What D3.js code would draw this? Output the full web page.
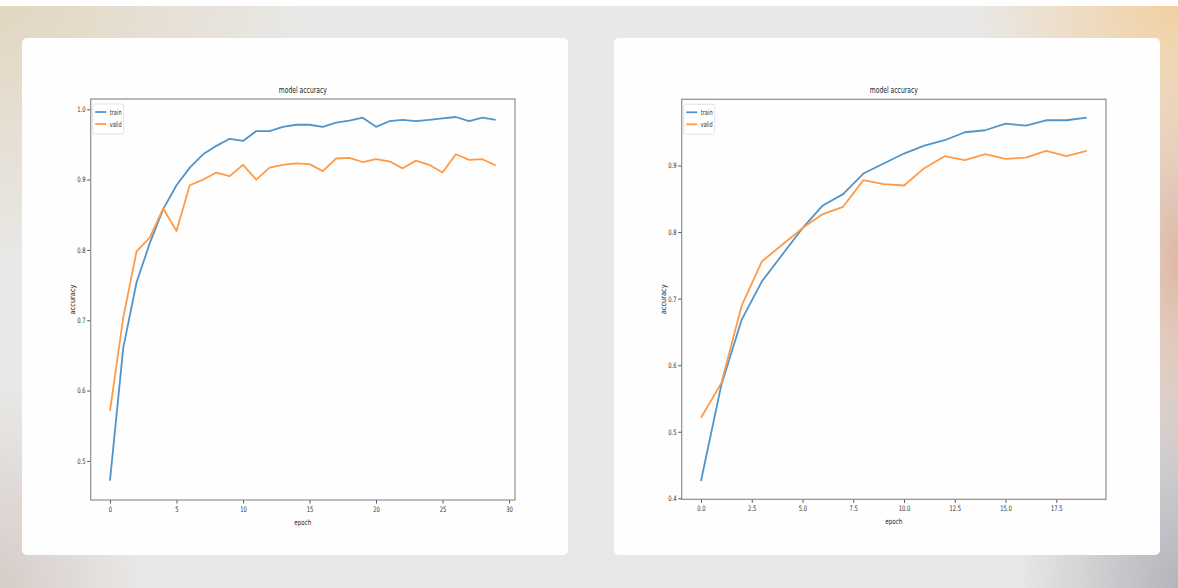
<!DOCTYPE html>
<html>
<head>
<meta charset="utf-8">
<script src="https://cdn.jsdelivr.net/npm/d3@7"></script>
<style>
  html, body { margin: 0; padding: 0; }
  body {
    width: 1178px; height: 588px; overflow: hidden;
    background:
      linear-gradient(#ffffff, #ffffff) top / 100% 6px no-repeat,
      radial-gradient(ellipse 300px 260px at 0px 0px, rgba(226,214,192,1), rgba(226,214,192,0)),
      radial-gradient(ellipse 200px 200px at 1178px 0px, rgba(242,208,160,1), rgba(242,208,160,0)),
      radial-gradient(ellipse 90px 220px at 1178px 260px, rgba(222,184,164,1), rgba(222,184,164,0)),
      radial-gradient(ellipse 160px 260px at 1178px 588px, rgba(180,180,188,1), rgba(180,180,188,0)),
      radial-gradient(ellipse 140px 200px at 0px 588px, rgba(214,204,200,1), rgba(214,204,200,0)),
      #e9e8e6;
  }
  svg { position: absolute; left: 0; top: 0; }
  .tick text { font-family: "DejaVu Sans Condensed", "DejaVu Sans", sans-serif; font-size: 7.5px; fill: #333; }
  .tick line { stroke: #555; }
  .domain { display: none; }
</style>
</head>
<body>
<script>
// left chart: 30 epochs
var epochsA = d3.range(30);
var trainA = [0.472, 0.661, 0.754, 0.810, 0.858, 0.892, 0.917, 0.936, 0.948, 0.958,
              0.955, 0.969, 0.969, 0.975, 0.978, 0.978, 0.975, 0.981, 0.984, 0.988,
              0.975, 0.983, 0.985, 0.983, 0.985, 0.987, 0.989, 0.983, 0.988, 0.985];
var validA = [0.571, 0.704, 0.798, 0.818, 0.859, 0.827, 0.892, 0.900, 0.910, 0.905,
              0.921, 0.900, 0.917, 0.921, 0.923, 0.922, 0.912, 0.930, 0.931, 0.925,
              0.929, 0.926, 0.916, 0.927, 0.921, 0.910, 0.936, 0.928, 0.929, 0.920];
var xTicksA = [0, 5, 10, 15, 20, 25, 30];
var yTicksA = [0.5, 0.6, 0.7, 0.8, 0.9, 1.0];

// right chart: 20 epochs
var epochsB = d3.range(20);
var trainB = [0.426, 0.570, 0.668, 0.726, 0.766, 0.806, 0.840, 0.857, 0.888, 0.903,
              0.918, 0.930, 0.938, 0.950, 0.953, 0.963, 0.960, 0.968, 0.968, 0.972];
var validB = [0.521, 0.573, 0.689, 0.756, 0.781, 0.806, 0.827, 0.838, 0.878, 0.872,
              0.870, 0.896, 0.914, 0.908, 0.917, 0.910, 0.912, 0.922, 0.914, 0.922];
var xTicksB = [0, 2.5, 5, 7.5, 10, 12.5, 15, 17.5];
var yTicksB = [0.4, 0.5, 0.6, 0.7, 0.8, 0.9];

var seriesNames = ["train", "valid"];
var colors = ["#4f95cc", "#ff9b47"];

var svg = d3.select("body").append("svg")
  .attr("width", 1178)
  .attr("height", 588);

// cards
var cards = [[22, 38, 546, 517], [614, 38, 546, 517]];
svg.selectAll(".card")
  .data(cards)
  .enter()
  .append("rect")
  .attr("class", "card")
  .attr("x", d => d[0])
  .attr("y", d => d[1])
  .attr("width", d => d[2])
  .attr("height", d => d[3])
  .attr("rx", 5)
  .attr("fill", "#fefefe");

function drawChart(opt) {
  var g = svg.append("g");

  var x = d3.scaleLinear().domain(opt.xDomain).range([opt.left, opt.right]);
  var y = d3.scaleLinear().domain(opt.yDomain).range([opt.bottom, opt.top]);

  var xAxis = d3.axisBottom(x).tickValues(opt.xTicks).tickSize(3.5).tickPadding(3)
    .tickFormat(opt.xFormat);
  var yAxis = d3.axisLeft(y).tickValues(opt.yTicks).tickSize(3.5).tickPadding(3)
    .tickFormat(d3.format(".1f"));

  g.append("g").attr("transform", "translate(0," + opt.bottom + ")").call(xAxis);
  g.append("g").attr("transform", "translate(" + opt.left + ",0)").call(yAxis);
  g.selectAll(".tick text").attr("transform", "scale(0.78,1)");

  var line = d3.line()
    .x((d, i) => x(opt.epochs[i]))
    .y(d => y(d));

  [opt.train, opt.valid].forEach(function (s, k) {
    g.append("path")
      .datum(s)
      .attr("d", line)
      .attr("fill", "none")
      .attr("stroke", colors[k])
      .attr("stroke-width", 1.8)
      .attr("stroke-linejoin", "round");
  });

  // spines
  g.append("rect")
    .attr("x", opt.left)
    .attr("y", opt.top)
    .attr("width", opt.right - opt.left)
    .attr("height", opt.bottom - opt.top)
    .attr("fill", "none")
    .attr("stroke", "#8e8e8e")
    .attr("stroke-width", 1.2);

  var cx = (opt.left + opt.right) / 2;
  g.append("text")
    .attr("x", cx).attr("y", opt.top - 6)
    .attr("text-anchor", "middle")
    .attr("font-family", "DejaVu Sans Condensed, DejaVu Sans, sans-serif")
    .attr("font-size", "9px").attr("fill", "#222")
    .attr("textLength", 48).attr("lengthAdjust", "spacingAndGlyphs")
    .text("model accuracy");

  g.append("text")
    .attr("x", cx).attr("y", opt.bottom + 25)
    .attr("text-anchor", "middle")
    .attr("font-family", "DejaVu Sans Condensed, DejaVu Sans, sans-serif")
    .attr("font-size", "7.5px").attr("fill", "#222")
    .attr("textLength", 17).attr("lengthAdjust", "spacingAndGlyphs")
    .text("epoch");

  g.append("text")
    .attr("transform", "translate(" + opt.yLabelX + "," + ((opt.top + opt.bottom) / 2) + ") rotate(-90)")
    .attr("text-anchor", "middle")
    .attr("font-family", "DejaVu Sans Condensed, DejaVu Sans, sans-serif")
    .attr("font-size", "7.5px").attr("fill", "#222")
    .attr("textLength", 30).attr("lengthAdjust", "spacingAndGlyphs")
    .text("accuracy");

  // legend
  var lx = opt.left + 2, ly = opt.top + 5;
  g.append("rect")
    .attr("x", lx).attr("y", ly)
    .attr("width", 31).attr("height", 30)
    .attr("rx", 2)
    .attr("fill", "#fff")
    .attr("stroke", "#dcdcdc")
    .attr("stroke-width", 0.8);

  seriesNames.forEach(function (name, k) {
    var yy = ly + 8 + k * 12;
    g.append("line")
      .attr("x1", lx + 2.5).attr("x2", lx + 13.5)
      .attr("y1", yy).attr("y2", yy)
      .attr("stroke", colors[k]).attr("stroke-width", 1.8);
    g.append("text")
      .attr("x", lx + 17).attr("y", yy + 2.5)
      .attr("font-family", "DejaVu Sans Condensed, DejaVu Sans, sans-serif")
      .attr("font-size", "7.5px").attr("fill", "#333")
      .attr("textLength", 12).attr("lengthAdjust", "spacingAndGlyphs")
      .text(name);
  });
}

drawChart({
  epochs: epochsA, train: trainA, valid: validA,
  xTicks: xTicksA, yTicks: yTicksA, xFormat: d3.format("d"),
  xDomain: [-1.45, 30.45], yDomain: [0.4444, 1.0146],
  left: 90.7, right: 515, top: 99, bottom: 500, yLabelX: 75
});

drawChart({
  epochs: epochsB, train: trainB, valid: validB,
  xTicks: xTicksB, yTicks: yTicksB, xFormat: d3.format(".1f"),
  xDomain: [-0.95, 19.95], yDomain: [0.3985, 0.9995],
  left: 681.7, right: 1106, top: 99.3, bottom: 499.3, yLabelX: 666
});
</script>
</body>
</html>
